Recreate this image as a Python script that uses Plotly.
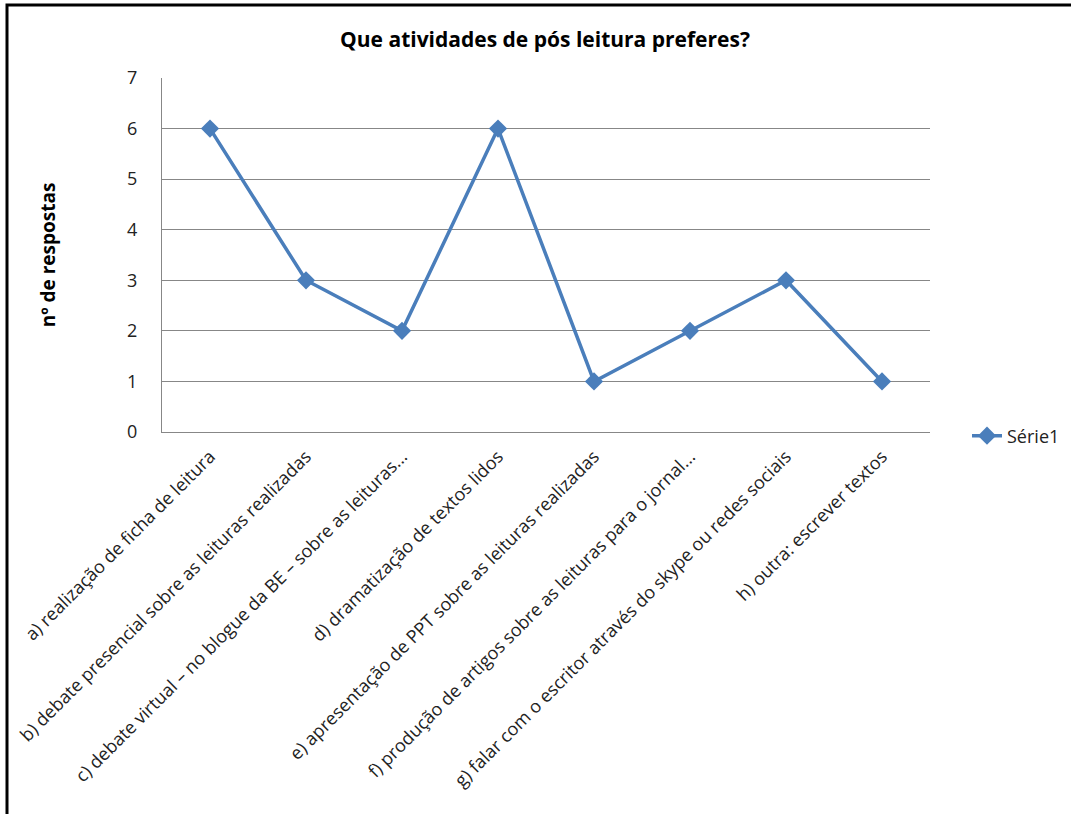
import plotly.graph_objects as go

# Survey answers: preferred post-reading activities
categories = [
    "a) realização de ficha de leitura",
    "b) debate presencial sobre as leituras realizadas",
    "c) debate virtual – no blogue da BE – sobre as leituras...",
    "d) dramatização de textos lidos",
    "e) apresentação de PPT sobre as leituras realizadas",
    "f) produção de artigos sobre as leituras para o jornal...",
    "g) falar com o escritor através do skype ou redes sociais",
    "h) outra: escrever textos",
]
respostas = [6, 3, 2, 6, 1, 2, 3, 1]
y_ticks = [0, 1, 2, 3, 4, 5, 6, 7]

LINE_BLUE = "#4A7EBB"
GRID = "#878787"
FONT = "'Open Sans', Lato, sans-serif"

W, H = 1071, 814
L, R, T, B = 162, 141, 78, 382
pw, ph = W - L - R, H - T - B

fig = go.Figure()
fig.add_trace(go.Scatter(
    x=list(range(len(categories))),
    y=respostas,
    mode="lines+markers",
    name="Série1",
    line=dict(color=LINE_BLUE, width=3.5),
    marker=dict(symbol="diamond", size=14, color=LINE_BLUE),
))

# outer frame: a single open path along the left and top edges
def px_to_paper_x(px):
    return (px - L) / pw

def px_to_paper_y(py):
    return (H - B - py) / ph

fx0, fx1 = px_to_paper_x(7), px_to_paper_x(W)
fy_top, fy_bot = px_to_paper_y(5), px_to_paper_y(H)
fig.add_shape(
    type="path", xref="paper", yref="paper",
    path=f"M {fx0},{fy_bot} L {fx0},{fy_top} L {fx1},{fy_top}",
    line=dict(color="black", width=3),
    fillcolor="rgba(0,0,0,0)",
)

fig.update_layout(
    width=W, height=H,
    margin=dict(l=L, r=R, t=T, b=B, autoexpand=False),
    paper_bgcolor="white", plot_bgcolor="white",
    font=dict(family=FONT, color="#222222", size=18),
    title=dict(text="<b>Que atividades de pós leitura preferes?</b>",
               x=545 / W, xanchor="center", y=1 - 40 / H, yanchor="middle",
               font=dict(size=21, color="black", family=FONT)),
    showlegend=True,
    legend=dict(x=px_to_paper_x(967), xanchor="left",
                y=px_to_paper_y(436), yanchor="middle",
                font=dict(size=18, color="#222222"),
                bgcolor="rgba(0,0,0,0)"),
    xaxis=dict(
        range=[-0.5, len(categories) - 0.5],
        tickmode="array",
        tickvals=list(range(len(categories))),
        ticktext=categories,
        tickangle=-45,
        showgrid=False,
        showline=True, linecolor=GRID, linewidth=1,
        zeroline=False,
        ticks="",
        ticklabelstandoff=6,
        tickfont=dict(size=18, color="#222222"),
        fixedrange=True,
    ),
    yaxis=dict(
        range=[0, 7],
        tickmode="array",
        tickvals=y_ticks,
        showgrid=True, gridcolor=GRID, gridwidth=1,
        showline=True, linecolor=GRID, linewidth=1,
        zeroline=False,
        ticks="",
        ticklabelstandoff=20,
        tickfont=dict(size=18, color="#222222"),
        title=dict(text="<b>nº de respostas</b>", standoff=66,
                   font=dict(size=19, color="black")),
        fixedrange=True,
    ),
)

fig.write_html("out.html")
